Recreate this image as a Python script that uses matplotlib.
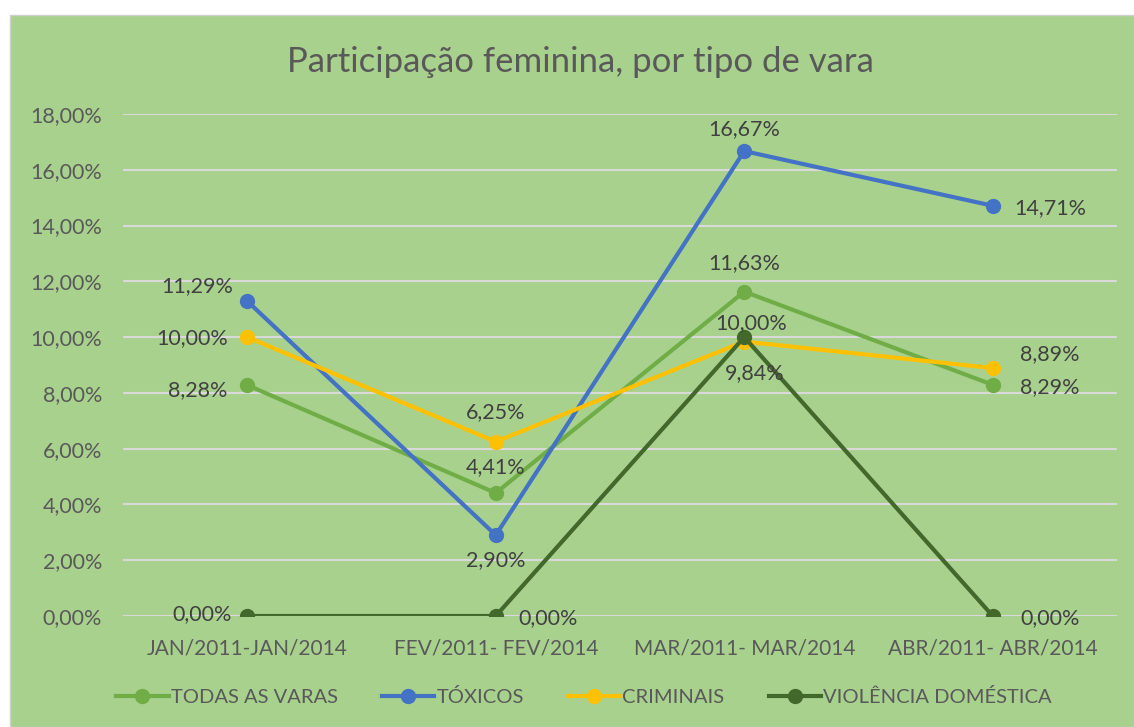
import matplotlib.pyplot as plt
from matplotlib.patches import Rectangle
from matplotlib.ticker import FuncFormatter

categories = ["JAN/2011-JAN/2014", "FEV/2011- FEV/2014", "MAR/2011- MAR/2014", "ABR/2011- ABR/2014"]
todas = [8.28, 4.41, 11.63, 8.29]
toxicos = [11.29, 2.90, 16.67, 14.71]
criminais = [10.00, 6.25, 9.84, 8.89]
violencia = [0.00, 0.00, 10.00, 0.00]

series = [
    ("TODAS AS VARAS", todas, "#70AD47",
     [(-50, -5), (0, 26), (0, 29), (57, -2)]),
    ("TÓXICOS", toxicos, "#4472C4",
     [(-50, 15), (0, -25), (0, 22), (58, -2)]),
    ("CRIMINAIS", criminais, "#FFC000",
     [(-55, -1), (0, 30), (10, -32), (57, 14)]),
    ("VIOLÊNCIA DOMÉSTICA", violencia, "#43682B",
     [(-45, 2), (52, -2), (7, 14), (57, -2)]),
]

plt.rcParams['font.family'] = ['Lato', 'DejaVu Sans']
txt = "#595959"
bg = "#A9D18E"

fig = plt.figure(figsize=(11.34, 7.27), dpi=100)
fig.patch.set_facecolor("white")
fig.patches.append(Rectangle((10 / 1134, 0), 1, 1 - 15 / 727, transform=fig.transFigure,
                             facecolor=bg, edgecolor="#D0D0D0", lw=1, zorder=-10))

ax = fig.add_axes([123 / 1134, 111 / 727, (1117 - 123) / 1134, 502 / 727])
ax.set_facecolor("none")

x = range(len(categories))
for name, vals, color, offs in series:
    ax.plot(x, vals, color=color, lw=3, marker="o", ms=10, label=name, zorder=3)
    for xi, v, (dx, dy) in zip(x, vals, offs):
        ax.annotate(f"{v:.2f}%".replace(".", ","), (xi, v), xytext=(dx, dy),
                    textcoords="offset pixels", ha="center", va="center",
                    fontsize=15.5, color="#404040", zorder=4)

ax.set_xlim(-0.5, 3.5)
ax.set_ylim(0, 18)
ax.set_yticks(range(0, 19, 2))
ax.yaxis.set_major_formatter(FuncFormatter(lambda v, p: f"{v:.2f}%".replace(".", ",")))
ax.set_xticks(list(x))
ax.set_xticklabels(categories)
ax.grid(axis="y", color="#D9D9D9", lw=1.5, zorder=1)
ax.set_axisbelow(True)
for s in ax.spines.values():
    s.set_visible(False)
ax.tick_params(length=0, labelsize=15.5, colors=txt)
ax.tick_params(axis="y", pad=15)
ax.tick_params(axis="x", labelsize=15, pad=16)

fig.text(580 / 1134, 1 - 62 / 727, "Participação feminina, por tipo de vara", ha="center", va="center",
         fontsize=25, color=txt)

fig.legend(loc="center", bbox_to_anchor=(584 / 1134, 1 - 697 / 727), ncol=4, frameon=False,
           fontsize=14.5, labelcolor=txt, handlelength=2.6, handletextpad=0.1, columnspacing=2.2)

fig.savefig("out.png", dpi=100, facecolor=fig.get_facecolor())
